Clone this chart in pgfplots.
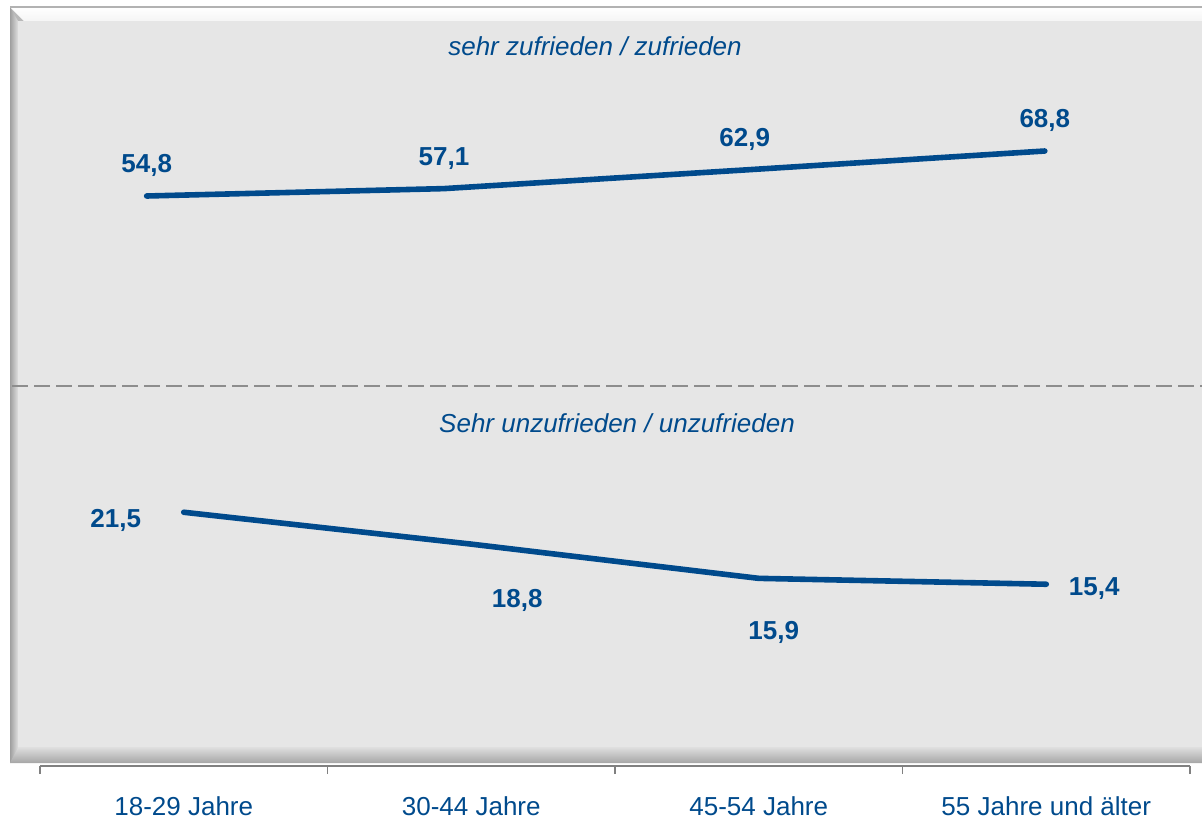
\documentclass[border=0pt]{standalone}
\usepackage{fontspec}
\setmainfont{Liberation Sans}
\usepackage{pgfplots}
\pgfplotsset{compat=1.18}
\usepackage{pgfplotstable}
\definecolor{lineblue}{RGB}{0,74,140}
\definecolor{txtblue}{RGB}{0,74,140}
\definecolor{panel}{RGB}{230,230,230}
\definecolor{axgray}{RGB}{128,128,128}

\pgfplotstableread{
x y dx dy
-0.129 54.8 0 11.8
0.905 57.1 0 11.8
1.951 62.9 0 11.8
2.995 68.8 0 11.8
}\tabUpper
\pgfplotstableread{
x y dx dy
0 21.5 -34 -7.7
1 18.8 23 -31.7
2 15.9 7.5 -30.7
3 15.4 24 -5.7
}\tabLower

\begin{document}
\begin{tikzpicture}[x=0.5pt,y=-0.5pt]
\useasboundingbox (0,0) rectangle (1202,820);
% panel with bevel
\fill[gray!55] (10,7) rectangle (1202,763);
\shade[top color=white, bottom color=gray!8] (10,7) -- (1202,7) -- (1202,21) -- (24,21) -- cycle;
\shade[left color=gray!75, right color=gray!25] (10,7) -- (18,21) -- (18,747) -- (10,763) -- cycle;
\shade[top color=gray!25, bottom color=gray!70] (10,763) -- (18,747) -- (1202,747) -- (1202,763) -- cycle;
\fill[panel] (18,21) rectangle (1202,747);
\draw[gray!60, line width=0.6pt] (10,7) -- (1202,7);
% separator
\draw[axgray!90, line width=1pt, dash pattern=on 8pt off 3pt] (12,386) -- (1202,386);
% section titles
\node[font=\fontsize{13}{15}\selectfont\itshape, text=txtblue] at (595,46) {sehr zufrieden / zufrieden};
\node[font=\fontsize{13}{15}\selectfont\itshape, text=txtblue] at (617,423) {Sehr unzufrieden / unzufrieden};

\pgfplotsset{
  myaxis/.style={
    at={(20pt,-383pt)}, anchor=south west,
    scale only axis, width=575pt, height=383pt,
    xmin=-0.5, xmax=3.5, clip=false,
    /pgf/number format/use comma,
    /pgf/number format/fixed,
    /pgf/number format/fixed zerofill,
    /pgf/number format/precision=1,
    /pgf/number format/assume math mode=true,
  },
  myline/.style={
    color=lineblue, line width=2.8pt, line cap=round, line join=round, mark=none,
    point meta=y,
    visualization depends on={\thisrow{dx} \as \dx},
    visualization depends on={\thisrow{dy} \as \dy},
    nodes near coords,
    every node near coord/.append style={anchor=base, xshift=\dx pt, yshift=\dy pt,
      font=\fontsize{13}{15}\selectfont\bfseries, text=txtblue},
  },
}

\begin{axis}[myaxis,
  ymin=-122.55, ymax=115.78,
  axis x line*=bottom, axis y line=none,
  xtick={0,1,2,3},
  xticklabels={18-29 Jahre,30-44 Jahre,45-54 Jahre,55 Jahre und älter},
  minor xtick={-0.5,0.5,1.5,2.5,3.5},
  major tick length=0pt, minor tick length=4pt,
  tick align=outside,
  x axis line style={axgray, line width=0.8pt},
  minor x tick style={axgray, line width=0.8pt},
  xticklabel style={font=\fontsize{13}{15}\selectfont, text=txtblue, anchor=north, inner sep=0pt, yshift=-15pt},
]
\addplot[myline] table[x=x,y=y] {\tabUpper};
\end{axis}

\begin{axis}[myaxis,
  ymin=0, ymax=64.9,
  hide axis,
]
\addplot[myline] table[x=x,y=y] {\tabLower};
\end{axis}
\end{tikzpicture}
\end{document}
